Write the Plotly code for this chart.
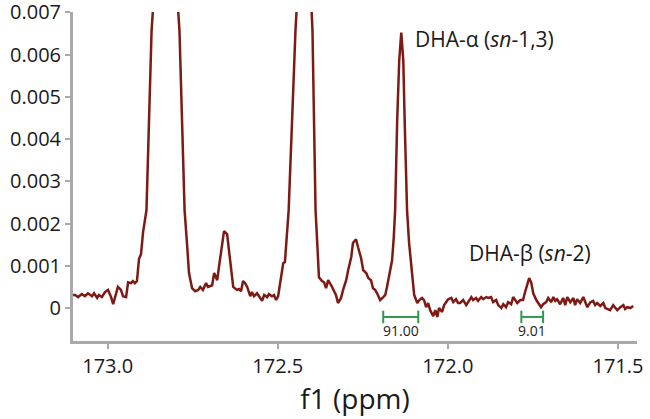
import plotly.graph_objs as go

# chemical shift (ppm) and intensity
ppm = [
    173.102, 173.096, 173.087, 173.076, 173.067, 173.058, 173.046, 173.040, 173.031, 173.026,
    173.017, 173.008, 172.999, 172.990, 172.984, 172.976, 172.970, 172.961, 172.955, 172.946,
    172.940, 172.931, 172.926, 172.920, 172.914, 172.908, 172.902, 172.896, 172.886, 172.871,
    172.865, 172.830, 172.795, 172.789, 172.774, 172.767, 172.761, 172.752, 172.743, 172.734,
    172.728, 172.720, 172.711, 172.705, 172.693, 172.687, 172.678, 172.673, 172.664, 172.658,
    172.649, 172.643, 172.634, 172.631, 172.620, 172.614, 172.608, 172.602, 172.596, 172.590,
    172.581, 172.576, 172.570, 172.561, 172.555, 172.546, 172.540, 172.531, 172.526, 172.517,
    172.511, 172.505, 172.499, 172.493, 172.487, 172.484, 172.479, 172.473, 172.468, 172.448,
    172.443, 172.423, 172.402, 172.398, 172.389, 172.384, 172.379, 172.370, 172.364, 172.358,
    172.352, 172.343, 172.337, 172.329, 172.323, 172.314, 172.308, 172.299, 172.293, 172.284,
    172.279, 172.270, 172.264, 172.255, 172.249, 172.240, 172.234, 172.226, 172.220, 172.214,
    172.208, 172.199, 172.190, 172.184, 172.179, 172.170, 172.164, 172.159, 172.155, 172.149,
    172.143, 172.137, 172.131, 172.127, 172.120, 172.114, 172.105, 172.099, 172.090, 172.084,
    172.076, 172.070, 172.064, 172.058, 172.052, 172.043, 172.037, 172.031, 172.026, 172.017,
    172.011, 172.005, 171.999, 171.990, 171.984, 171.976, 171.970, 171.964, 171.955, 171.946,
    171.940, 171.931, 171.926, 171.917, 171.911, 171.902, 171.896, 171.887, 171.881, 171.873,
    171.867, 171.858, 171.852, 171.843, 171.837, 171.829, 171.823, 171.814, 171.808, 171.802,
    171.796, 171.787, 171.779, 171.773, 171.767, 171.761, 171.755, 171.749, 171.740, 171.734,
    171.726, 171.720, 171.711, 171.705, 171.696, 171.690, 171.684, 171.679, 171.670, 171.661,
    171.655, 171.649, 171.640, 171.631, 171.626, 171.620, 171.611, 171.602, 171.596, 171.590,
    171.581, 171.573, 171.567, 171.561, 171.552, 171.543, 171.537, 171.531, 171.523, 171.514,
    171.508, 171.502, 171.493, 171.484, 171.479, 171.473, 171.464, 171.455,
]
intensity = [
    0.00031, 0.00031, 0.00026, 0.00033, 0.00028, 0.00035, 0.00028, 0.00035, 0.00024, 0.00031,
    0.00026, 0.00038, 0.00043, 0.00026, 0.00009, 0.00031, 0.00050, 0.00043, 0.00028, 0.00026,
    0.00061, 0.00059, 0.00064, 0.00059, 0.00064, 0.00116, 0.00128, 0.00180, 0.00232, 0.00657,
    0.00730, 0.02500, 0.00730, 0.00657, 0.00232, 0.00154, 0.00083, 0.00047, 0.00040, 0.00043,
    0.00050, 0.00043, 0.00059, 0.00050, 0.00054, 0.00083, 0.00066, 0.00097, 0.00154, 0.00182,
    0.00175, 0.00137, 0.00073, 0.00050, 0.00043, 0.00045, 0.00040, 0.00064, 0.00059, 0.00050,
    0.00028, 0.00038, 0.00028, 0.00035, 0.00028, 0.00017, 0.00031, 0.00026, 0.00033, 0.00028,
    0.00031, 0.00019, 0.00028, 0.00059, 0.00097, 0.00106, 0.00109, 0.00168, 0.00232, 0.00657,
    0.00730, 0.02000, 0.00730, 0.00657, 0.00232, 0.00154, 0.00073, 0.00064, 0.00061, 0.00047,
    0.00066, 0.00054, 0.00043, 0.00031, 0.00012, 0.00024, 0.00043, 0.00066, 0.00090, 0.00121,
    0.00154, 0.00163, 0.00144, 0.00118, 0.00090, 0.00083, 0.00071, 0.00066, 0.00047, 0.00043,
    0.00035, 0.00019, 0.00026, 0.00031, 0.00050, 0.00083, 0.00113, 0.00168, 0.00232, 0.00444,
    0.00586, 0.00652, 0.00586, 0.00444, 0.00232, 0.00154, 0.00083, 0.00031, 0.00012, 0.00019,
    0.00024, 0.00019, 0.00002, 0.00012, -0.00005, -0.00019, -0.00005, -0.00021, 0.00000, -0.00009,
    0.00007, 0.00014, 0.00021, 0.00024, 0.00014, 0.00021, 0.00012, 0.00012, 0.00019, 0.00007,
    0.00014, 0.00026, 0.00019, 0.00024, 0.00017, 0.00026, 0.00021, 0.00026, 0.00024, 0.00026,
    0.00014, 0.00019, 0.00007, 0.00000, 0.00009, 0.00002, 0.00014, 0.00009, 0.00026, 0.00019,
    0.00012, 0.00019, 0.00019, 0.00038, 0.00054, 0.00071, 0.00061, 0.00035, 0.00019, 0.00012,
    0.00002, 0.00009, 0.00014, 0.00024, 0.00014, 0.00026, 0.00017, 0.00021, 0.00009, 0.00024,
    0.00007, 0.00026, 0.00014, 0.00024, 0.00007, 0.00021, 0.00012, 0.00026, 0.00014, 0.00002,
    0.00014, 0.00017, 0.00007, 0.00012, 0.00005, 0.00012, 0.00000, -0.00002, -0.00005, 0.00007,
    0.00000, -0.00005, 0.00002, 0.00007, -0.00002, 0.00002, 0.00000, 0.00005,
]

# integration regions (ppm) and their values
integral_start = [172.190, 171.784]
integral_end = [172.087, 171.720]
integral_values = ["91.00", "9.01"]
integral_level = -0.00021

peak_labels = ["DHA-α (<i>sn</i>-1,3)", "DHA-β (<i>sn</i>-2)"]
peak_label_x = [172.102, 171.943]
peak_label_y = [0.00638, 0.00130]

line_color = "#7d1a14"
green = "#2e9a4c"
axis_gray = "#a7a9ac"
font_family = "Open Sans, Noto Sans, sans-serif"

fig = go.Figure()
fig.add_trace(
    go.Scatter(
        x=ppm,
        y=intensity,
        mode="lines",
        line=dict(color=line_color, width=2.5),
        showlegend=False,
        hoverinfo="skip",
    )
)

for x0, x1, val in zip(integral_start, integral_end, integral_values):
    fig.add_trace(
        go.Scatter(
            x=[x0, x1],
            y=[integral_level, integral_level],
            mode="lines+markers",
            line=dict(color=green, width=2),
            marker=dict(symbol="line-ns", size=9, line=dict(color=green, width=2)),
            showlegend=False,
            hoverinfo="skip",
        )
    )
    fig.add_annotation(
        x=(x0 + x1) / 2,
        y=integral_level,
        yshift=-14,
        text=val,
        showarrow=False,
        font=dict(family=font_family, size=14, color="#222222"),
    )

for label, lx, ly in zip(peak_labels, peak_label_x, peak_label_y):
    fig.add_annotation(
        x=lx,
        y=ly,
        text=label,
        showarrow=False,
        xanchor="left",
        yanchor="middle",
        font=dict(family=font_family, size=21, color="#1a1a1a"),
    )

fig.update_layout(
    width=650,
    height=419,
    margin=dict(l=73, r=13, t=12, b=78),
    paper_bgcolor="white",
    plot_bgcolor="white",
    font=dict(family=font_family, color="#1a1a1a"),
    xaxis=dict(
        range=[173.102, 171.444],
        tickvals=[173.0, 172.5, 172.0, 171.5],
        ticktext=["173.0", "172.5", "172.0", "171.5"],
        ticks="outside",
        ticklen=5,
        tickwidth=2,
        tickcolor=axis_gray,
        showline=True,
        linecolor=axis_gray,
        linewidth=3,
        showgrid=False,
        zeroline=False,
        automargin=False,
        ticklabeloverflow="allow",
        tickfont=dict(size=20),
        title=dict(text="f1 (ppm)", font=dict(size=28), standoff=3),
    ),
    yaxis=dict(
        range=[-0.00078, 0.00701],
        tickvals=[0, 0.001, 0.002, 0.003, 0.004, 0.005, 0.006, 0.007],
        ticktext=["0", "0.001", "0.002", "0.003", "0.004", "0.005", "0.006", "0.007"],
        ticks="outside",
        ticklen=5,
        tickwidth=2,
        tickcolor=axis_gray,
        showline=True,
        linecolor=axis_gray,
        linewidth=3,
        showgrid=False,
        zeroline=False,
        automargin=False,
        ticklabeloverflow="allow",
        tickfont=dict(size=20),
    ),
)

# drop the default 8px page margin so the figure sits in the window corner
fig.write_html(
    "out.html",
    config={"displayModeBar": False},
    post_script="document.body.style.margin = '0';",
)
